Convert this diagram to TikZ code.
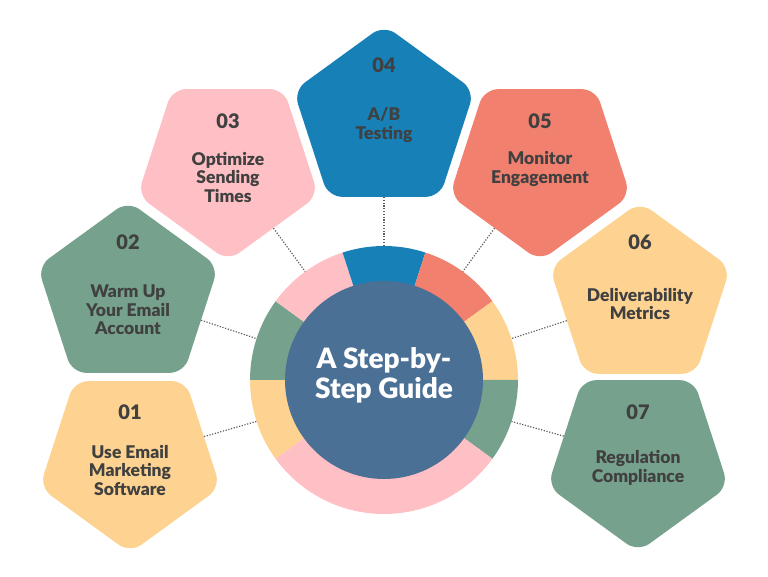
\documentclass[tikz,border=0pt]{standalone}
\usepackage{fontspec}
\setmainfont{Lato}[BoldFont={Lato Black}]
\definecolor{myYellow}{RGB}{254,211,145}
\definecolor{myGreen}{RGB}{118,162,141}
\definecolor{myPink}{RGB}{255,192,197}
\definecolor{myBlue}{RGB}{23,128,182}
\definecolor{mySalmon}{RGB}{242,128,111}
\definecolor{myNavy}{RGB}{75,112,150}
\definecolor{myText}{RGB}{64,64,64}
\usepackage{tikz}
\usetikzlibrary{shapes.geometric, calc}

\tikzset{
  stepbox/.style={regular polygon, regular polygon sides=5, minimum size=190pt,
    inner sep=0pt, rounded corners=14pt},
  stepflip/.style={stepbox, shape border rotate=180},
  stepnum/.style={font=\bfseries\fontsize{20}{22}\selectfont, text=myText},
  steptext/.style={align=center, font=\bfseries\fontsize{17.5}{18.5}\selectfont, text=myText},
  dotline/.style={line width=1.2pt, dash pattern=on 1.2pt off 1.6pt, myText!85}
}

\begin{document}
\begin{tikzpicture}[x=1pt, y=1pt]
  \useasboundingbox (0,0) rectangle (768,576);
  \coordinate (hub) at (384,196);

  % ring pieces
  \foreach \a/\b/\c in {180/216/myYellow, 144/180/myGreen, 108/144/myPink,
      72/108/myBlue, 36/72/mySalmon, 0/36/myYellow, -36/0/myGreen, -144/-36/myPink}
    \fill[\c] (hub) -- ++(\a:134) arc[start angle=\a, end angle=\b, radius=134] -- cycle;

  \node[circle, fill=myNavy, minimum size=198pt, inner sep=0pt] (guide) at (hub) {};
  \node[align=center, text=white, font=\bfseries\fontsize{28}{30}\selectfont] (title)
    at (384,201) {A Step-by-\\Step Guide};

  % pentagons
  \node[stepflip, fill=myYellow] (p1) at (130,118) {};
  \node[stepbox, fill=myGreen] (p2) at (128,280) {};
  \node[stepflip, fill=myPink] (p3) at (228,410) {};
  \node[stepbox, fill=myBlue] (p4) at (384,456) {};
  \node[stepflip, fill=mySalmon] (p5) at (540,410) {};
  \node[stepbox, fill=myYellow] (p6) at (640,279) {};
  \node[stepflip, fill=myGreen] (p7) at (638,119) {};

  % numbers and texts
  \node[stepnum] (n1) at (130,164) {01};
  \node[stepnum] (n2) at (128,334) {02};
  \node[stepnum] (n3) at (228,455) {03};
  \node[stepnum] (n4) at (384,511) {04};
  \node[stepnum] (n5) at (540,455) {05};
  \node[stepnum] (n6) at (640,334) {06};
  \node[stepnum] (n7) at (638,164) {07};

  \node[steptext] (t1) at (130,106) {Use Email\\Marketing\\Software};
  \node[steptext] (t2) at (128,266) {Warm Up\\Your Email\\Account};
  \node[steptext] (t3) at (228,399) {Optimize\\Sending\\Times};
  \node[steptext] (t4) at (384,451) {A/B\\Testing};
  \node[steptext] (t5) at (540,407) {Monitor\\Engagement};
  \node[steptext] (t6) at (640,272) {Deliverability\\Metrics};
  \node[steptext] (t7) at (638,108) {Regulation\\Compliance};

  % dotted links
  \foreach \i/\a in {1/198, 2/162, 3/126, 4/90, 5/54, 6/18, 7/-18}
    \coordinate (r\i) at ($(hub)+(\a:134)$);
  \foreach \i in {1,...,7}
    \draw[dotline] (p\i) -- (r\i);
\end{tikzpicture}
\end{document}
